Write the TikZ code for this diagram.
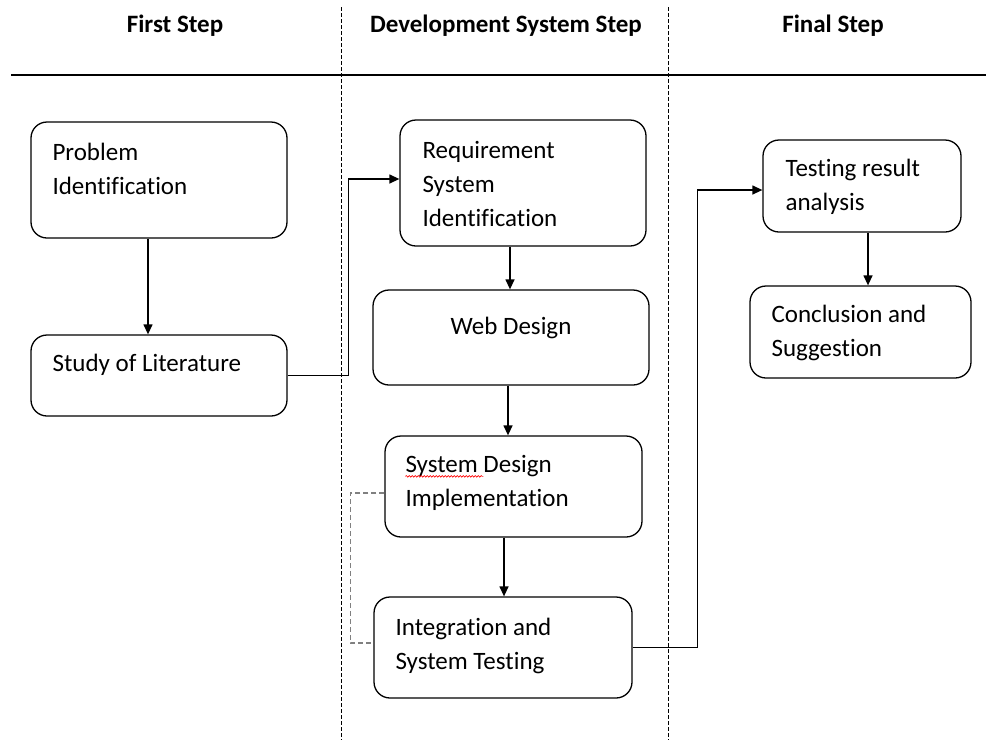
\documentclass[tikz,border=0pt]{standalone}
\usepackage{fontspec}
\setmainfont{Carlito}[Ligatures=NoCommon]
\usetikzlibrary{positioning,arrows.meta,decorations.pathmorphing}
\tikzset{
  stepbox/.style={draw,line width=1.3pt,rounded corners=16pt,inner sep=0pt},
  steptext/.style={inner sep=0pt,align=left,font=\fontsize{25}{34}\selectfont},
  head/.style={inner sep=0pt,anchor=base,font=\fontsize{25}{29}\bfseries\selectfont},
  arr/.style={line width=1.3pt,-{Triangle[length=10pt,width=9pt]}},
  divider/.style={line width=0.8pt,dash pattern=on 4pt off 2pt},
}
\begin{document}
\begin{tikzpicture}[x=1pt,y=-1pt]
\useasboundingbox (0,0) rectangle (986,740);
\node[head] (first) at (175,32) {First Step};
\node[head] (dev) at (506,32) {Development System Step};
\node[head] (final) at (833,32) {Final Step};
\draw[line width=1.6pt] (11,75) -- (986,75);
\draw[divider] (341,7) -- (341,740);
\draw[divider] (668,7) -- (668,740);

\node[stepbox,minimum width=256pt,minimum height=116pt] (prob) at (159,180) {};
\node[steptext,below right=22pt and 22pt of prob.north west] (prob-t) {Problem\\Identification};
\node[stepbox,minimum width=256pt,minimum height=81pt] (lit) at (159,375.5) {};
\node[steptext,below right=20pt and 22pt of lit.north west] (lit-t) {Study of Literature};

\node[stepbox,minimum width=246pt,minimum height=126pt] (req) at (523,183) {};
\node[steptext,below right=22pt and 23pt of req.north west] (req-t) {Requirement\\System\\Identification};
\node[stepbox,minimum width=276pt,minimum height=95pt] (web) at (511,337.5) {};
\node[steptext,below=28pt of web.north] (web-t) {Web Design};
\node[stepbox,minimum width=257pt,minimum height=101pt] (sdi) at (513.5,486.5) {};
\node[steptext,below right=20pt and 21pt of sdi.north west] (sdi-t) {System Design\\Implementation};
\node[stepbox,minimum width=258pt,minimum height=101pt] (integ) at (503,647.5) {};
\node[steptext,below right=22pt and 22pt of integ.north west] (integ-t) {Integration and\\System Testing};

\node[stepbox,minimum width=198pt,minimum height=92pt] (test) at (862,186) {};
\node[steptext,below right=20pt and 23pt of test.north west] (test-t) {Testing result\\analysis};
\node[stepbox,minimum width=221pt,minimum height=92pt] (concl) at (860.5,332) {};
\node[steptext,below right=20pt and 22pt of concl.north west] (concl-t) {Conclusion and\\Suggestion};

\draw[red,line width=0.6pt,decorate,decoration={snake,amplitude=0.8pt,segment length=3pt}]
  ([yshift=-21pt]sdi-t.north west) -- ++(78,0);

\draw[arr] ([xshift=-11pt]prob.south) -- ([xshift=-11pt]lit.north);
\draw[arr] (lit.east) -- ++(61,0) |- ([yshift=4pt]req.west);
\draw[arr] ([xshift=-13pt]req.south) -- ([xshift=-13pt]req.south |- web.north);
\draw[arr] ([xshift=-3pt]web.south) -- ([xshift=-3pt]web.south |- sdi.north);
\draw[arr] ([xshift=-9.5pt]sdi.south) -- ([xshift=-9.5pt]sdi.south |- integ.north);
\draw[gray,line width=1.3pt,dash pattern=on 5pt off 3pt]
  ([yshift=-6.5pt]sdi.west) -- ++(-34,0) |- ([yshift=4.5pt]integ.west);
\draw[arr] (integ.east) -- ++(65,0) |- ([yshift=-4pt]test.west);
\draw[arr] ([xshift=6pt]test.south) -- ([xshift=6pt]test.south |- concl.north);
\end{tikzpicture}
\end{document}
